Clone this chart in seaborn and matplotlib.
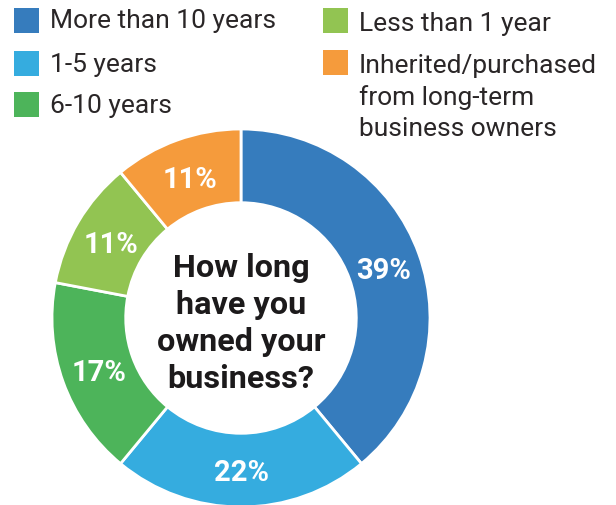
import matplotlib
matplotlib.use("Agg")
import matplotlib.pyplot as plt
from matplotlib.patches import Rectangle
import seaborn as sns

# Survey: how long owners have held their business
categories = [
    "More than 10 years",
    "1-5 years",
    "6-10 years",
    "Less than 1 year",
    "Inherited/purchased\nfrom long-term\nbusiness owners",
]
shares = [39, 22, 17, 11, 11]
colors = ["#367cbd", "#35acdf", "#4db45a", "#92c452", "#f59b3c"]
center_title = "How long\nhave you\nowned your\nbusiness?"

sns.set_theme(style="white")
plt.rcParams["font.family"] = ["Roboto", "DejaVu Sans"]
palette = sns.color_palette(colors)

W, H = 616, 505
fig = plt.figure(figsize=(W / 100, H / 100), dpi=100)
fig.patch.set_facecolor("white")


def fx(px):
    return px / W


def fy(py):
    return 1 - py / H


# Donut: centre (241, 318) px, outer radius 189 px
cx, cy, r = 241, 318, 189
ax = fig.add_axes([fx(cx - r), fy(cy + r), 2 * r / W, 2 * r / H])
wedges, _, autotexts = ax.pie(
    shares,
    colors=palette,
    startangle=90,
    counterclock=False,
    radius=1.0,
    autopct=lambda p: f"{p:.0f}%",
    pctdistance=0.80,
    wedgeprops=dict(width=0.39, edgecolor="white", linewidth=2),
    textprops=dict(color="white", fontsize=21, fontweight="bold"),
)
for w in wedges:
    w.set_clip_on(False)
# nudge the percentage labels slightly down so they sit optically centred
for t in autotexts:
    x, y = t.get_position()
    t.set_position((x, y - 0.022))
ax.set_xlim(-1, 1)
ax.set_ylim(-1, 1)
ax.set_aspect("equal")
ax.axis("off")

ax.text(0, -0.03, center_title, ha="center", va="center", fontsize=23.3,
        fontweight="bold", color="#1c1a1b", linespacing=1.30)

# Legend, two columns drawn by hand
text_color = "#2a2627"
sq = 25
slots = [
    (14, 8, 50, [28]),
    (14, 51, 50, [72]),
    (14, 92, 50, [113]),
    (323, 8, 359, [31]),
    (323, 50, 359, [73, 105, 136]),
]
for (sx, sy, tx, baselines), label, col in zip(slots, categories, palette):
    fig.add_artist(Rectangle((fx(sx), fy(sy + sq)), sq / W, sq / H,
                             transform=fig.transFigure, facecolor=col,
                             edgecolor="none"))
    for line, b in zip(label.split("\n"), baselines):
        fig.text(fx(tx), fy(b), line, ha="left", va="baseline",
                 fontsize=19, color=text_color)

fig.savefig("out.png", dpi=100, facecolor="white")
